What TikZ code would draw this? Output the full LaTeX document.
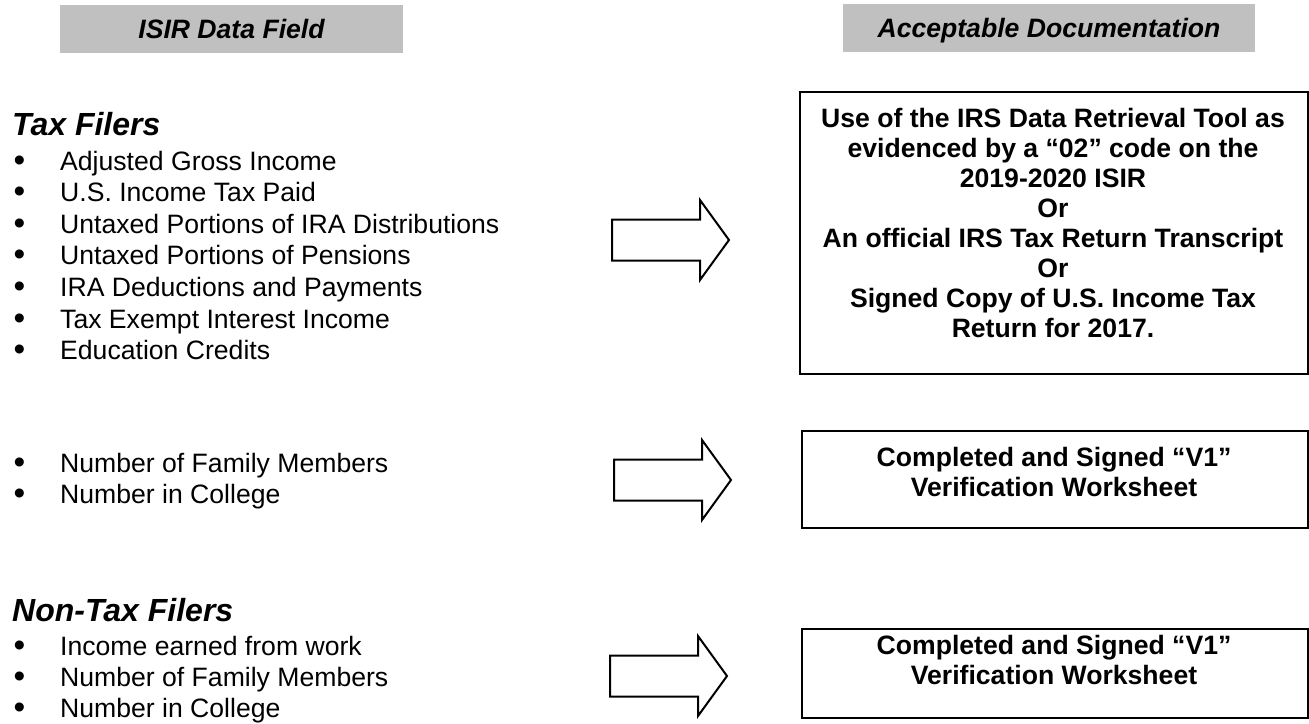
\documentclass[tikz,border=0pt]{standalone}
\usepackage{fontspec}
\setmainfont{Liberation Sans}
\usetikzlibrary{positioning}
\definecolor{hdrgray}{RGB}{192,192,192}
\def\blockarrow(#1,#2){\draw[line width=2pt,line join=miter] (#1,#2-20.5) -- ++(88,0) -- ++(0,-19.5) -- ++(29,40) -- ++(-29,40) -- ++(0,-19.5) -- ++(-88,0) -- cycle;}
\tikzset{
  hdr/.style={fill=hdrgray, inner sep=0pt, text height=19pt, text depth=0pt, font=\bfseries\itshape\fontsize{26.6}{30}\selectfont},
  docbox/.style={draw, line width=2.4pt, anchor=north west, inner sep=0pt},
  doctext/.style={align=center, anchor=north, inner sep=0pt, font=\bfseries\fontsize{26.6}{30}\selectfont},
  grouptitle/.style={anchor=base west, inner sep=0pt, font=\bfseries\itshape\fontsize{32}{36}\selectfont},
  item/.style={anchor=base west, inner sep=0pt, font=\fontsize{26.6}{31.6}\selectfont},
}
\newcommand{\bul}{\makebox[46.5pt][l]{\raisebox{-1pt}{\scalebox{1.25}{•}}}}

\begin{document}
\begin{tikzpicture}[x=1pt,y=-1pt]
	\useasboundingbox (0,0) rectangle (1309,723);
	
	%%%%% HEADERS %%%%%
	\node[hdr, minimum width=343pt, minimum height=48pt] (fieldhdr) at (231.5,29) {ISIR Data Field};
	\node[hdr, minimum width=412pt, minimum height=48pt] (dochdr) at (1049,28) {Acceptable Documentation};
	
	%%%%% TAX FILERS %%%%%
	\node[grouptitle] (taxttl) at (12,135) {Tax Filers};
	\node[item] (tax1) at (13.5,170) {\bul Adjusted Gross Income};
	\node[item] (tax2) at (13.5,201.6) {\bul U.S. Income Tax Paid};
	\node[item] (tax3) at (13.5,233.2) {\bul Untaxed Portions of IRA Distributions};
	\node[item] (tax4) at (13.5,264.8) {\bul Untaxed Portions of Pensions};
	\node[item] (tax5) at (13.5,296.4) {\bul IRA Deductions and Payments};
	\node[item] (tax6) at (13.5,328) {\bul Tax Exempt Interest Income};
	\node[item] (tax7) at (13.5,359.6) {\bul Education Credits};
	
	\blockarrow(612,240)
	
	\node[docbox, minimum width=508pt, minimum height=282pt] (drtbox) at (799,91) {};
	\node[doctext] (drttext) at (1053,108) {Use of the IRS Data Retrieval Tool as\\evidenced by a “02” code on the\\2019-2020 ISIR\\Or\\An official IRS Tax Return Transcript\\Or\\Signed Copy of U.S. Income Tax\\Return for 2017.};
	
	%%%%% HOUSEHOLD %%%%%
	\node[item] (hh1) at (13.5,472) {\bul Number of Family Members};
	\node[item] (hh2) at (13.5,503.6) {\bul Number in College};
	
	\blockarrow(614,480)
	
	\node[docbox, minimum width=506pt, minimum height=97pt] (vonebox) at (801,430) {};
	\node[doctext] (vonetext) at (1054,447) {Completed and Signed “V1”\\Verification Worksheet};
	
	%%%%% NON-TAX FILERS %%%%%
	\node[grouptitle] (nonttl) at (12,621) {Non-Tax Filers};
	\node[item] (non1) at (13.5,655) {\bul Income earned from work};
	\node[item] (non2) at (13.5,686.5) {\bul Number of Family Members};
	\node[item] (non3) at (13.5,717.5) {\bul Number in College};
	
	\blockarrow(610,676)
	
	\node[docbox, minimum width=506pt, minimum height=89pt] (vtwobox) at (801,628) {};
	\node[doctext] (vtwotext) at (1054,635) {Completed and Signed “V1”\\Verification Worksheet};
\end{tikzpicture}
\end{document}
